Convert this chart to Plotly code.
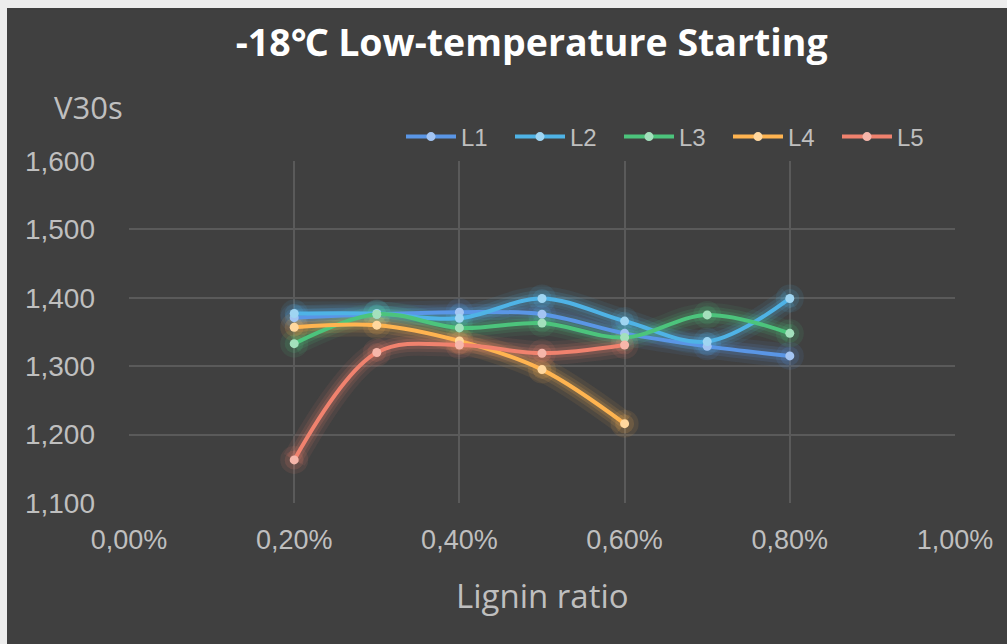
import plotly.graph_objects as go

# ---- data ----
lignin_ratio = [0.002, 0.003, 0.004, 0.005, 0.006, 0.007, 0.008]
L1 = [1371, 1376, 1379, 1376, 1348, 1329, 1315]
L2 = [1377, 1377, 1370, 1399, 1366, 1336, 1399]
L3 = [1333, 1376, 1356, 1363, 1342, 1375, 1348]
L4 = [1357, 1360, 1337, 1295, 1216]
L5 = [1163, 1320, 1331, 1319, 1331]
series_names = ["L1", "L2", "L3", "L4", "L5"]
series_values = [L1, L2, L3, L4, L5]

line_colors = ["#5A96E6", "#4FB3E6", "#4CC47C", "#FFB450", "#F0826E"]
glow_colors = ["90,150,230", "79,179,230", "76,196,124", "255,180,80", "240,130,110"]
marker_colors = ["#A3C4F2", "#9FD5F2", "#A3E0BC", "#FFD79E", "#F6B6AA"]

W, H = 1007, 644
ML, MR, MT, MB = 129, 52, 161, 141
PW, PH = W - ML - MR, H - MT - MB

fig = go.Figure()

# glow layers
for name, vals, gc in zip(series_names, series_values, glow_colors):
    xs = lignin_ratio[:len(vals)]
    for w, a in [(24, 0.08), (16, 0.12), (10, 0.16)]:
        fig.add_trace(go.Scatter(
            x=xs, y=vals, mode="lines", showlegend=False, hoverinfo="skip",
            line=dict(color=f"rgba({gc},{a})", width=w, shape="spline", smoothing=1),
        ))
    for s, a in [(28, 0.10), (19, 0.15)]:
        fig.add_trace(go.Scatter(
            x=xs, y=vals, mode="markers", showlegend=False, hoverinfo="skip",
            marker=dict(color=f"rgba({gc},{a})", size=s, line=dict(width=0)),
        ))

# main lines
for name, vals, lc, mc in zip(series_names, series_values, line_colors, marker_colors):
    xs = lignin_ratio[:len(vals)]
    fig.add_trace(go.Scatter(
        x=xs, y=vals, mode="lines+markers", name=name,
        line=dict(color=lc, width=4, shape="spline", smoothing=1),
        marker=dict(color=mc, size=9, line=dict(width=0)),
    ))

text_col = "#BFBFBF"
grid_col = "#5A5A5A"

fig.update_layout(
    width=W, height=H,
    margin=dict(l=ML, r=MR, t=MT, b=MB),
    paper_bgcolor="#404040", plot_bgcolor="#404040",
    separators=",,",
    font=dict(family="Liberation Sans, Arial, sans-serif", color=text_col, size=26),
    title=dict(
        text="<b>-18℃ Low-temperature Starting</b>",
        x=0.528, xanchor="center", y=1 - 43 / H, yanchor="middle",
        font=dict(family="Open Sans, Noto Sans, sans-serif", size=37.5, color="#FFFFFF"),
    ),
    legend=dict(
        orientation="h", x=(401 - ML) / PW, xanchor="left",
        y=1 + 24 / PH, yanchor="middle",
        font=dict(size=24, color=text_col),
        bgcolor="rgba(0,0,0,0)", itemwidth=50,
        entrywidth=44, entrywidthmode="pixels",
        traceorder="normal",
    ),
    xaxis=dict(
        range=[0, 0.01], tick0=0, dtick=0.002, tickformat=".2%",
        showgrid=True, gridcolor=grid_col, gridwidth=1.5,
        zeroline=False, showline=False, ticks="",
        ticklabelstandoff=18,
        tickfont=dict(size=27, color=text_col),
    ),
    yaxis=dict(
        range=[1100, 1600], tick0=1100, dtick=100, tickformat=",",
        showgrid=True, gridcolor=grid_col, gridwidth=1.5,
        zeroline=False, showline=False, ticks="",
        ticklabelstandoff=33,
        tickfont=dict(size=28, color=text_col),
    ),
    showlegend=True,
)

# axis titles as annotations
fig.add_annotation(
    text="Lignin ratio", xref="paper", yref="paper",
    x=(542 - ML) / PW, y=-(595 - (MT + PH)) / PH,
    xanchor="center", yanchor="middle", showarrow=False,
    font=dict(family="Open Sans, Noto Sans, sans-serif", size=33, color=text_col),
)
fig.add_annotation(
    text="V30s", xref="paper", yref="paper",
    x=(52 - ML) / PW, y=1 + (MT - 107) / PH,
    xanchor="left", yanchor="middle", showarrow=False,
    font=dict(family="Open Sans, Noto Sans, sans-serif", size=31, color=text_col),
)

# light frame at top and left edges
def px_x(p):
    return (p - ML) / PW

def px_y(p):
    return 1 - (p - MT) / PH

fig.add_shape(type="rect", xref="paper", yref="paper",
              x0=px_x(0), x1=px_x(W), y0=px_y(8), y1=px_y(0),
              fillcolor="#EDEDED", line=dict(width=0), layer="above")
fig.add_shape(type="rect", xref="paper", yref="paper",
              x0=px_x(0), x1=px_x(7), y0=px_y(H), y1=px_y(0),
              fillcolor="#EDEDED", line=dict(width=0), layer="above")

fig.write_html("out.html")
